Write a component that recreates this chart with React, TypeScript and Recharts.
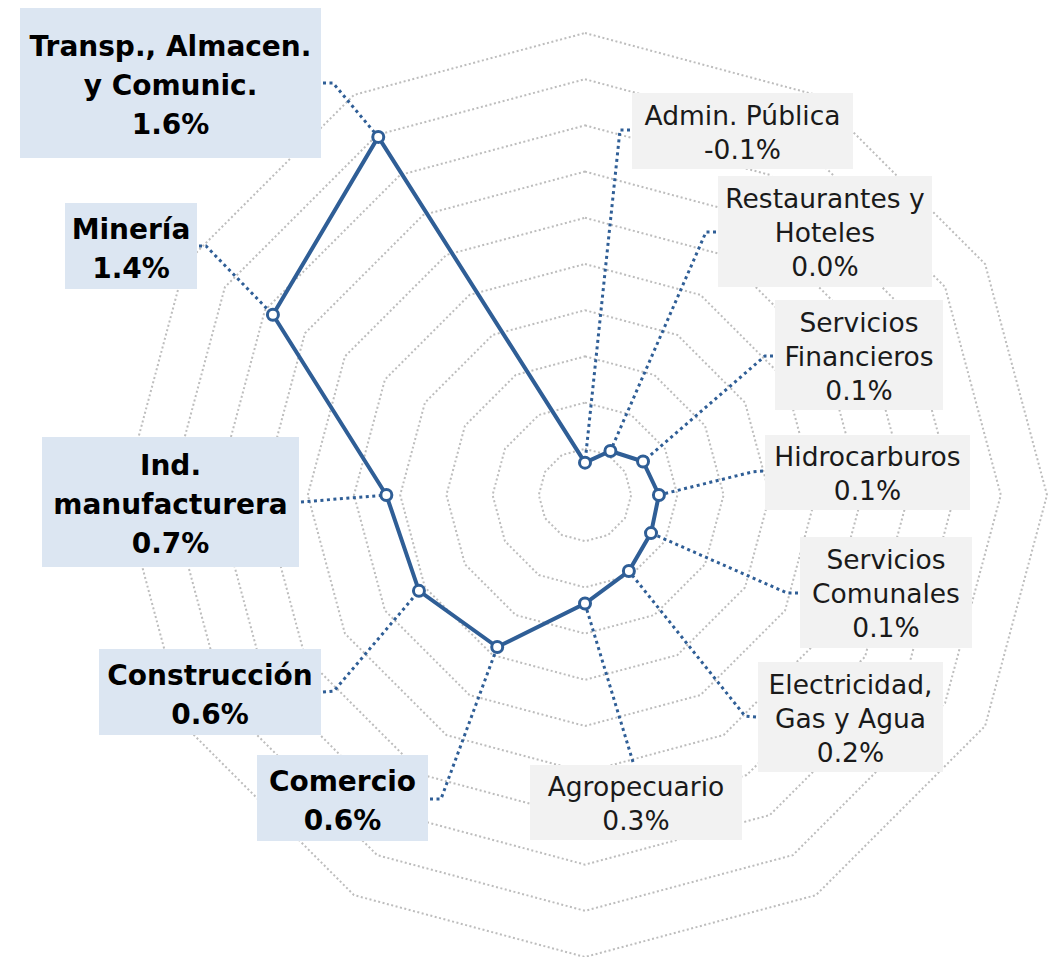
import React from "react";
import { RadarChart, Radar, PolarGrid, PolarAngleAxis, PolarRadiusAxis } from "recharts";

// ---- data ----
const CATEGORIES = [
  "Admin. Pública",
  "Restaurantes y Hoteles",
  "Servicios Financieros",
  "Hidrocarburos",
  "Servicios Comunales",
  "Electricidad, Gas y Agua",
  "Agropecuario",
  "Comercio",
  "Construcción",
  "Ind. manufacturera",
  "Minería",
  "Transp., Almacen. y Comunic.",
];
const VALUES = [-0.06, 0.02, 0.09, 0.12, 0.13, 0.18, 0.27, 0.56, 0.63, 0.66, 1.36, 1.59];
const LABEL_LINES = [
  ["Admin. Pública"],
  ["Restaurantes y", "Hoteles"],
  ["Servicios", "Financieros"],
  ["Hidrocarburos"],
  ["Servicios", "Comunales"],
  ["Electricidad,", "Gas y Agua"],
  ["Agropecuario"],
  ["Comercio"],
  ["Construcción"],
  ["Ind.", "manufacturera"],
  ["Minería"],
  ["Transp., Almacen.", "y Comunic."],
];
const HIGHLIGHT = [false, false, false, false, false, false, false, true, true, true, true, true];
// axis runs from -0.2 (centre); rings every 0.2 up to 1.8
const RADIUS_DOMAIN: [number, number] = [-0.2, 2.0];
const RADIUS_TICKS = [-0.2, 0, 0.2, 0.4, 0.6, 0.8, 1.0, 1.2, 1.4, 1.6, 1.8];

// ---- layout of label boxes (positions only) ----
const LABEL_LAYOUT = [
  { x: 632, y: 93, w: 221, h: 76, ax: 630, ay: 130, ex: 620, ey: 130 },
  { x: 718, y: 176, w: 214, h: 111, ax: 716, ay: 232, ex: 706, ey: 232 },
  { x: 775, y: 300, w: 168, h: 110, ax: 773, ay: 356, ex: 765, ey: 356 },
  { x: 765, y: 435, w: 205, h: 75, ax: 763, ay: 471, ex: 752, ey: 472 },
  { x: 800, y: 537, w: 172, h: 111, ax: 798, ay: 593, ex: 787, ey: 593 },
  { x: 758, y: 662, w: 185, h: 110, ax: 756, ay: 717, ex: 745, ey: 716 },
  { x: 530, y: 765, w: 212, h: 75, ax: 633, ay: 762, ex: 633, ey: 762 },
  { x: 257, y: 755, w: 171, h: 86, ax: 430, ay: 799, ex: 441, ey: 799 },
  { x: 99, y: 649, w: 222, h: 86, ax: 323, ay: 692, ex: 334, ey: 691 },
  { x: 42, y: 437, w: 257, h: 130, ax: 301, ay: 502, ex: 301, ey: 502 },
  { x: 65, y: 203, w: 132, h: 86, ax: 199, ay: 246, ex: 206, ey: 246 },
  { x: 20, y: 8, w: 301, h: 150, ax: 323, ay: 83, ex: 333, ey: 83 },
];

const data = CATEGORIES.map((c, i) => ({ category: c, value: VALUES[i] }));

const BLUE = "#2F5E96";
const FONT = "'DejaVu Sans', sans-serif";
// outer ring (1.8) should sit 462px from centre; scale domain ends at 2.0
const OUTER_R = (462 * (RADIUS_DOMAIN[1] - RADIUS_DOMAIN[0])) / (RADIUS_TICKS[RADIUS_TICKS.length - 1] - RADIUS_DOMAIN[0]);

const renderDot = (props: any) => {
  const { cx, cy, index } = props;
  const b = LABEL_LAYOUT[index];
  const bold = HIGHLIGHT[index];
  const fs = bold ? 28 : 26.5;
  const lh = bold ? 39 : 34;
  const lines = [...LABEL_LINES[index], `${VALUES[index].toFixed(1)}%`];
  const n = lines.length;
  const first = b.y + b.h / 2 - ((n - 1) / 2) * lh + 0.36 * fs + (bold ? 2 : 1);
  return (
    <g key={`lbl-${index}`}>
      <rect x={b.x} y={b.y} width={b.w} height={b.h} fill={bold ? "#DCE6F2" : "#F2F2F2"} />
      {lines.map((t, k) => (
        <text
          key={k}
          x={b.x + b.w / 2}
          y={first + k * lh}
          textAnchor="middle"
          fontFamily={FONT}
          fontSize={fs}
          fontWeight={bold ? 700 : 400}
          fill={bold ? "#000" : "#1a1a1a"}
        >
          {t}
        </text>
      ))}
      <polyline
        points={`${b.ax},${b.ay} ${b.ex},${b.ey} ${cx},${cy}`}
        fill="none"
        stroke={BLUE}
        strokeWidth={3}
        strokeDasharray="3 3.5"
      />
      <circle cx={cx} cy={cy} r={5.5} fill="#fff" stroke={BLUE} strokeWidth={3} />
    </g>
  );
};

export default function App() {
  return (
    <div style={{ position: "absolute", left: 0, top: 0, width: 1051, height: 957, background: "#fff", overflow: "hidden" }}>
      <RadarChart
        width={1051}
        height={957}
        data={data}
        cx={585}
        cy={495}
        outerRadius={OUTER_R}
        margin={{ top: 0, right: 0, bottom: 0, left: 0 }}
      >
        <PolarGrid
          gridType="polygon"
          radialLines={false}
          stroke="#BDBDBD"
          strokeWidth={2}
          strokeDasharray="2 2.5"
        />
        <PolarAngleAxis dataKey="category" tick={false} axisLine={false} tickLine={false} />
        <PolarRadiusAxis
          type="number"
          domain={RADIUS_DOMAIN}
          allowDataOverflow
          ticks={RADIUS_TICKS as any}
          tickCount={12}
          tick={false}
          axisLine={false}
          tickLine={false}
        />
        <Radar
          dataKey="value"
          stroke={BLUE}
          strokeWidth={4}
          fill="none"
          fillOpacity={0}
          dot={renderDot}
          isAnimationActive={false}
        />
      </RadarChart>
    </div>
  );
}
